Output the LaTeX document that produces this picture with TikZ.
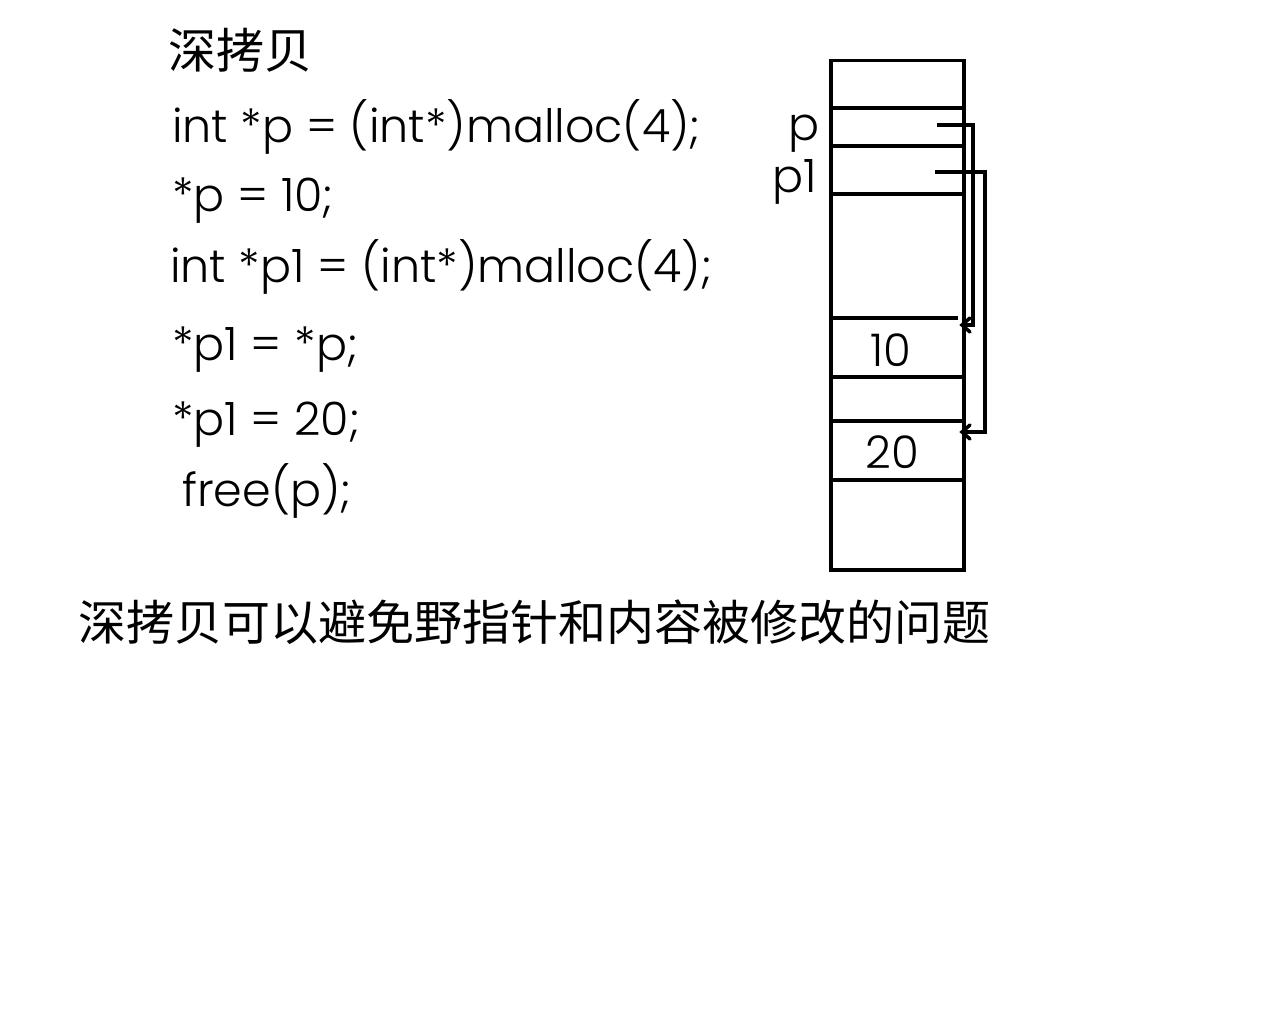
\documentclass[tikz,border=0pt]{standalone}
\usepackage{fontspec}
\setmainfont{Poppins Light}
\newfontfamily\cjk{Noto Sans CJK SC}
\usetikzlibrary{positioning,arrows.meta}
\tikzset{
        % code lines
        codeline/.style={anchor=base west, inner sep=0pt, font=\fontsize{46}{54}\selectfont},
        % chinese text
        cntext/.style={anchor=west, inner sep=0pt, font=\cjk\fontsize{48}{56}\selectfont},
        % memory
        membox/.style={draw=black, line width=3.5pt, inner sep=0pt},
        memsep/.style={black, line width=3.5pt},
        memval/.style={inner sep=0pt, font=\fontsize{45}{52}\selectfont},
        ptrlabel/.style={anchor=base east, inner sep=0pt, font=\fontsize{46}{54}\selectfont},
        link/.style={black, line width=3.5pt, line cap=butt},
        linkhead/.style={black, line width=3.5pt, line cap=round, line join=miter}
}
\begin{document}
\begin{tikzpicture}[x=1pt, y=-1pt]
    \useasboundingbox[fill=white] (0,0) rectangle (1280,1024);
    % code
    \node[cntext] (title) at (168,50) {深拷贝};
    \node[codeline] (l1) at (172,143) {int *p = (int*)malloc(4);};
    \node[codeline] (l2) at (172,212) {*p = 10;};
    \node[codeline] (l3) at (170,283) {int *p1 = (int*)malloc(4);};
    \node[codeline] (l4) at (172,360) {*p1 = *p;};
    \node[codeline] (l5) at (172,435) {*p1 = 20;};
    \node[codeline] (l6) at (182,506) {free(p);};
    \node[cntext] (note) at (78,622) {深拷贝可以避免野指针和内容被修改的问题};
    % memory
    \node[membox, anchor=north west, minimum width=133pt, minimum height=509pt] (mem) at (829,59) {};
    \foreach \y in {108,146,194,377,421,480}
        \draw[memsep] (829,\y) -- (962,\y);
    \draw[memsep] (829,318) -- (958,318);
    \node[memval] (v10) at (891,350) {10};
    \node[memval] (v20) at (892,452) {20};
    \node[ptrlabel] (lp) at (820,141) {p};
    \node[ptrlabel] (lp1) at (817,193) {p1};
    % pointers
    \coordinate (srcp) at (937,125);
    \coordinate (dstp) at (962,325);
    \coordinate (srcq) at (935,172);
    \coordinate (dstq) at (962,432);
    \draw[link] (srcp) -- (973,125) -- (973,325) -- (dstp);
    \draw[link] (srcq) -- (985,172) -- (985,432) -- (dstq);
    \draw[linkhead] (970,318) -- (dstp) -- (970,332);
    \draw[linkhead] (970,425) -- (dstq) -- (970,439);
\end{tikzpicture}
\end{document}
